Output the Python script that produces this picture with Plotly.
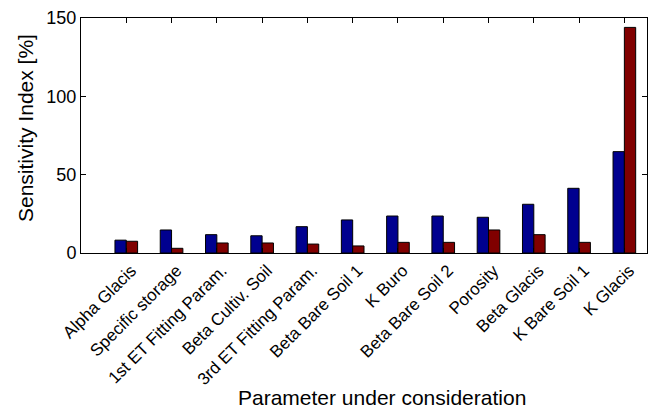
import plotly.graph_objects as go

categories = ["Alpha Glacis", "Specific storage", "1st ET Fitting Param.", "Beta Cultiv. Soil",
              "3rd ET Fitting Param.", "Beta Bare Soil 1", "K Buro", "Beta Bare Soil 2",
              "Porosity", "Beta Glacis", "K Bare Soil 1", "K Glacis"]
series_blue = [8.2, 14.7, 11.7, 11.0, 16.8, 21.1, 23.6, 23.6, 22.8, 31.1, 41.3, 64.7]
series_red = [7.5, 3.0, 6.4, 6.4, 5.7, 4.5, 6.8, 6.8, 14.7, 11.7, 6.8, 144.0]
y_ticks = [0, 50, 100, 150]
x_title = "Parameter under consideration"
y_title = "Sensitivity Index [%]"

x_idx = list(range(len(categories)))

fig = go.Figure()
fig.add_trace(go.Bar(x=x_idx, y=series_blue, marker=dict(color="#00008F", line=dict(color="black", width=1)),
                     showlegend=False))
fig.add_trace(go.Bar(x=x_idx, y=series_red, marker=dict(color="#800000", line=dict(color="black", width=1)),
                     showlegend=False))

font_family = "Liberation Sans, Arial, sans-serif"
W, H = 654, 410
ml, mr, mt, mb = 81, 7, 18, 157
pw, ph = W - ml - mr, H - mt - mb

fig.update_layout(
    width=W, height=H,
    margin=dict(l=ml, r=mr, t=mt, b=mb, autoexpand=False),
    barmode="group", bargap=0.5, bargroupgap=0,
    plot_bgcolor="white", paper_bgcolor="white",
    font=dict(family=font_family, size=18, color="black"),
    xaxis=dict(
        range=[-1, 11.5], tickvals=x_idx, ticktext=categories, tickangle=-45,
        ticks="inside", ticklen=5, tickcolor="black", showline=True, linecolor="black",
        linewidth=1, mirror="ticks", showgrid=False, zeroline=False, automargin=False,
        tickfont=dict(size=17), ticklabelshift=5,
    ),
    yaxis=dict(
        range=[0, 150], tickvals=y_ticks, ticks="inside", ticklen=5, tickcolor="black",
        showline=True, linecolor="black", linewidth=1, mirror="ticks", showgrid=False,
        zeroline=False, automargin=False, tickfont=dict(size=18),
    ),
    annotations=[
        dict(text=x_title, xref="paper", yref="paper",
             x=(382 - ml) / pw, y=-(397 - (mt + ph)) / ph,
             xanchor="center", yanchor="middle", showarrow=False, font=dict(size=21)),
        dict(text=y_title, xref="paper", yref="paper",
             x=-(ml - 25) / pw, y=1 - (128 - mt) / ph, textangle=-90,
             xanchor="center", yanchor="middle", showarrow=False, font=dict(size=21)),
    ],
)

fig.write_html("out.html")
